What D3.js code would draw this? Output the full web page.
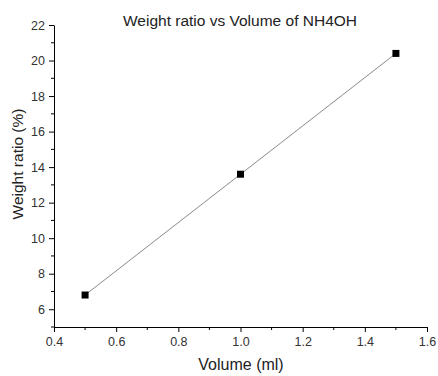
<!DOCTYPE html>
<html>
<head>
<meta charset="utf-8">
<script src="https://cdn.jsdelivr.net/npm/d3@7"></script>
<style>
  body { margin: 0; background: #fff; }
  text { font-family: "Liberation Sans", Arial, sans-serif; }
</style>
</head>
<body>
<script>
// data
const volume = [0.5, 1.0, 1.5];
const weightRatio = [6.8, 13.6, 20.4];
const xTicks = [0.4, 0.6, 0.8, 1.0, 1.2, 1.4, 1.6];
const yTicks = [6, 8, 10, 12, 14, 16, 18, 20, 22];
const xMinor = [0.5, 0.7, 0.9, 1.1, 1.3, 1.5];
const yMinor = [5, 7, 9, 11, 13, 15, 17, 19, 21];

const width = 438, height = 376;
const margin = { top: 25, right: 11, bottom: 49, left: 54 };

const x = d3.scaleLinear().domain([0.4, 1.6]).range([margin.left, width - margin.right]);
const y = d3.scaleLinear().domain([5, 22]).range([height - margin.bottom, margin.top]);

const svg = d3.select("body").append("svg")
  .attr("width", width)
  .attr("height", height);

// x axis
const gx = svg.append("g")
  .attr("transform", `translate(0,${height - margin.bottom})`)
  .call(d3.axisBottom(x).tickValues(xTicks).tickFormat(d3.format(".1f")).tickSize(5).tickSizeOuter(0).tickPadding(5));
gx.selectAll("g.minor").data(xMinor).enter().append("line")
  .attr("x1", d => x(d)).attr("x2", d => x(d))
  .attr("y1", 0).attr("y2", 3).attr("stroke", "#000");

// y axis
const gy = svg.append("g")
  .attr("transform", `translate(${margin.left},0)`)
  .call(d3.axisLeft(y).tickValues(yTicks).tickSize(5).tickSizeOuter(0).tickPadding(4));
gy.selectAll("g.minor").data(yMinor).enter().append("line")
  .attr("y1", d => y(d)).attr("y2", d => y(d))
  .attr("x1", 0).attr("x2", -3).attr("stroke", "#000");

svg.selectAll(".tick text")
  .attr("font-size", 12.5)
  .attr("font-family", "Liberation Sans, Arial, sans-serif")
  .attr("fill", "#333");
svg.selectAll(".domain, .tick line").attr("stroke", "#000");

// line
const line = d3.line().x((d, i) => x(volume[i])).y(d => y(d));
svg.append("path")
  .attr("d", line(weightRatio))
  .attr("fill", "none")
  .attr("stroke", "#8a8a8a")
  .attr("stroke-width", 1);

// markers
svg.selectAll("rect.pt").data(weightRatio).enter().append("rect")
  .attr("class", "pt")
  .attr("x", (d, i) => x(volume[i]) - 3.5)
  .attr("y", d => y(d) - 3.5)
  .attr("width", 7).attr("height", 7)
  .attr("fill", "#000");

// titles
svg.append("text")
  .attr("x", 240).attr("y", 26)
  .attr("text-anchor", "middle")
  .attr("font-size", 15.5)
  .attr("fill", "#222")
  .text("Weight ratio vs Volume of NH4OH");

svg.append("text")
  .attr("x", 241).attr("y", 370)
  .attr("text-anchor", "middle")
  .attr("font-size", 16)
  .attr("fill", "#222")
  .text("Volume (ml)");

svg.append("text")
  .attr("transform", `translate(23,164) rotate(-90)`)
  .attr("text-anchor", "middle")
  .attr("font-size", 15.5)
  .attr("fill", "#222")
  .text("Weight ratio (%)");
</script>
</body>
</html>
